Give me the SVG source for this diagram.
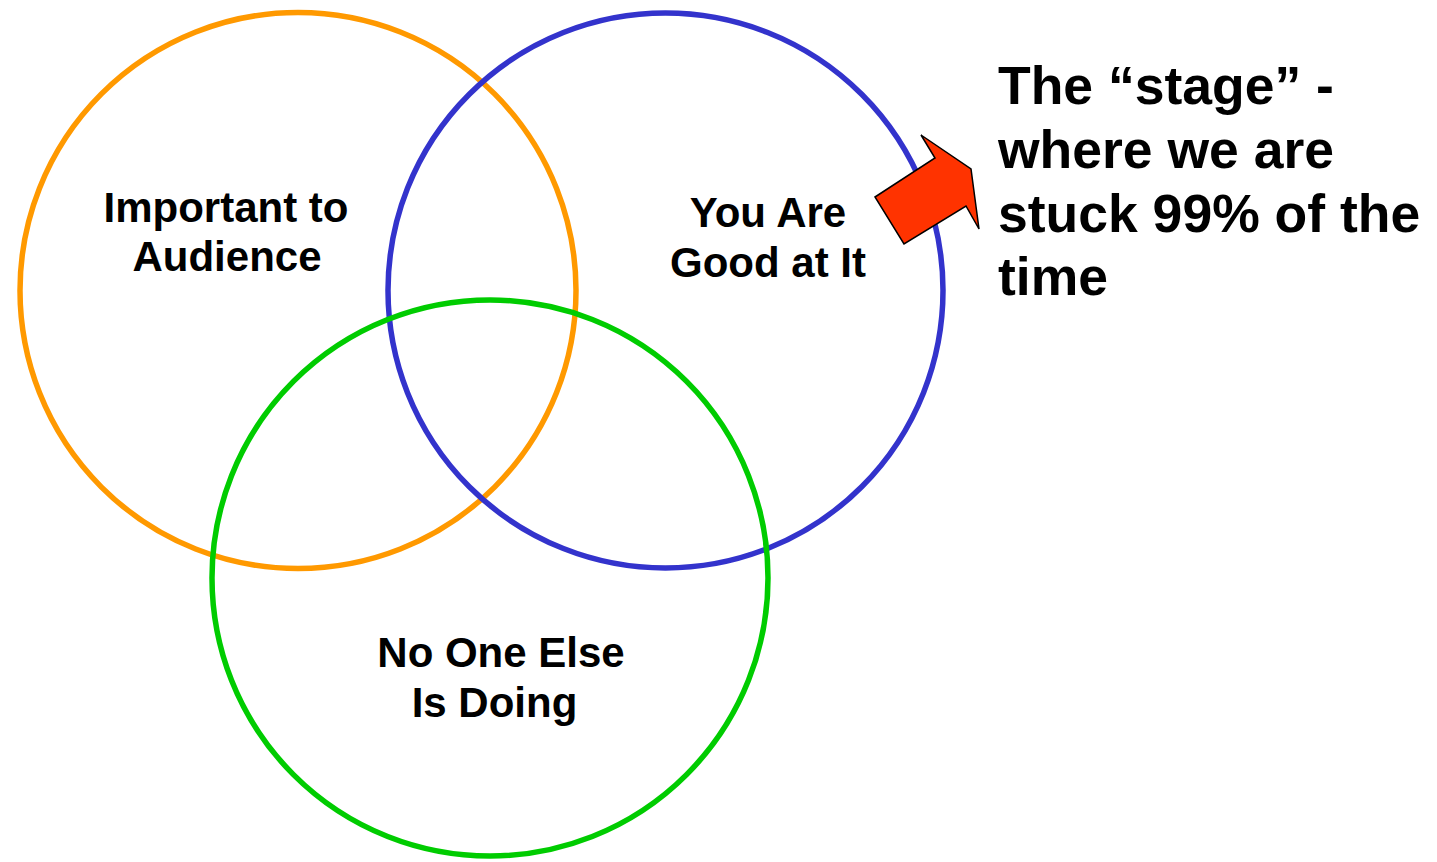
<svg xmlns="http://www.w3.org/2000/svg" width="1437" height="862" viewBox="0 0 1437 862">
<style>
.c{fill:none;stroke-width:5.5}
.lbl{font-family:"Liberation Sans",Arial,sans-serif;font-weight:bold;font-size:42px;fill:#000;text-anchor:middle}
.big{font-family:"Liberation Sans",Arial,sans-serif;font-weight:bold;font-size:53.5px;fill:#000}
</style>
<rect width="1437" height="862" fill="#fff"/>
<g id="circle-important">
<circle class="c" cx="298" cy="290.5" r="278" stroke="#FF9900"/>
<text class="lbl"><tspan x="226" y="222">Important to</tspan><tspan x="227" y="271">Audience</tspan></text>
</g>
<g id="circle-good">
<circle class="c" cx="665.5" cy="290.5" r="277.5" stroke="#3333CC"/>
<text class="lbl"><tspan x="768" y="227">You Are</tspan><tspan x="768" y="277">Good at It</tspan></text>
</g>
<g id="circle-noone">
<circle class="c" cx="490" cy="578" r="278" stroke="#00CC00"/>
<text class="lbl"><tspan x="501" y="667">No One Else</tspan><tspan x="494.5" y="717">Is Doing</tspan></text>
</g>
<g id="arrow">
<polygon points="875,197 935,158 921,135 971,169 979,229 966,206 904,244" fill="#FF3300" stroke="#000" stroke-width="1.5" stroke-linejoin="miter"/>
</g>
<g id="note">
<text class="big"><tspan x="998" y="104">The “stage” -</tspan><tspan x="998" y="168">where we are</tspan><tspan x="998" y="232">stuck 99% of the</tspan><tspan x="998" y="295">time</tspan></text>
</g>
</svg>
